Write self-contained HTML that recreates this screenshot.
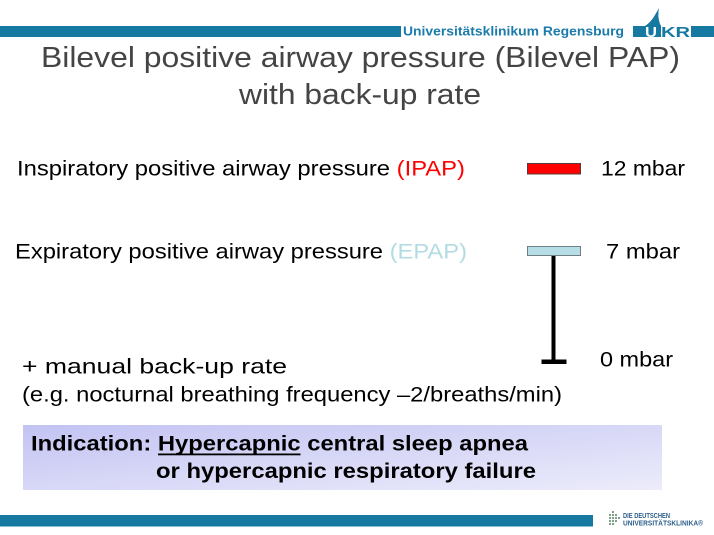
<!DOCTYPE html>
<html>
<head>
<meta charset="utf-8">
<style>
  html,body{margin:0;padding:0;background:#fff;}
  svg{display:block;}
  text{font-family:"Liberation Sans", Arial, sans-serif;}
</style>
</head>
<body>
<svg width="714" height="535" viewBox="0 0 714 535" xmlns="http://www.w3.org/2000/svg">
  <defs>
    <linearGradient id="boxg" x1="0" y1="0" x2="1" y2="1">
      <stop offset="0" stop-color="#c3c3f3"/>
      <stop offset="1" stop-color="#ececfb"/>
    </linearGradient>
  </defs>
  <rect width="714" height="535" fill="#ffffff"/>

  <!-- top bar -->
  <rect x="0" y="26" width="401" height="11" fill="#1679a1"/>
  <rect x="691" y="26" width="23" height="11" fill="#1679a1"/>
  <text x="403" y="35.7" font-size="12.5" font-weight="bold" fill="#1b7bab" textLength="221" lengthAdjust="spacingAndGlyphs">Universitätsklinikum Regensburg</text>
  <!-- UKR logo -->
  <path d="M633,37 L633,26 L645,26 Q651,22 655,15 L659,8 Q657,18 661,26 L661,37 Z" fill="#1679a1"/>
  <text x="645" y="37" font-size="15" font-weight="bold" fill="#ffffff" textLength="12" lengthAdjust="spacingAndGlyphs">U</text>
  <text x="661" y="37" font-size="15" font-weight="bold" fill="#1679a1" textLength="29" lengthAdjust="spacingAndGlyphs">KR</text>

  <!-- title -->
  <text x="41" y="67" font-size="28.5" fill="#444444" textLength="639" lengthAdjust="spacingAndGlyphs">Bilevel positive airway pressure (Bilevel PAP)</text>
  <text x="239" y="104" font-size="28.5" fill="#444444" textLength="242" lengthAdjust="spacingAndGlyphs">with back-up rate</text>

  <!-- IPAP -->
  <text x="17" y="175.7" font-size="21" fill="#000" textLength="448" lengthAdjust="spacingAndGlyphs">Inspiratory positive airway pressure <tspan fill="#ff0000">(IPAP)</tspan></text>
  <rect x="527.5" y="163.5" width="53" height="10.5" fill="#ff0000" stroke="#5a3a3a" stroke-width="1"/>
  <text x="601" y="175.7" font-size="21" fill="#000" textLength="84" lengthAdjust="spacingAndGlyphs">12 mbar</text>

  <!-- EPAP -->
  <text x="15" y="258.3" font-size="21" fill="#000" textLength="452" lengthAdjust="spacingAndGlyphs">Expiratory positive airway pressure <tspan fill="#b3dbe3">(EPAP)</tspan></text>
  <rect x="527.5" y="246.5" width="53" height="9" fill="#b7dee6" stroke="#6f7f84" stroke-width="1"/>
  <text x="606" y="258.3" font-size="21" fill="#000" textLength="74" lengthAdjust="spacingAndGlyphs">7 mbar</text>

  <!-- stem -->
  <rect x="551.5" y="256" width="4" height="107" fill="#000"/>
  <rect x="541.5" y="359.5" width="25" height="4.5" fill="#000"/>
  <text x="600" y="366.7" font-size="21" fill="#000" textLength="73" lengthAdjust="spacingAndGlyphs">0 mbar</text>

  <!-- back-up rate -->
  <text x="22" y="373.5" font-size="21" fill="#000" textLength="265" lengthAdjust="spacingAndGlyphs">+ manual back-up rate</text>
  <text x="22" y="401.5" font-size="21" fill="#000" textLength="540" lengthAdjust="spacingAndGlyphs">(e.g. nocturnal breathing frequency –2/breaths/min)</text>

  <!-- indication box -->
  <rect x="23" y="425" width="639" height="65" fill="url(#boxg)"/>
  <text x="31" y="450.7" font-size="21" font-weight="bold" fill="#000" textLength="497" lengthAdjust="spacingAndGlyphs">Indication: Hypercapnic central sleep apnea</text>
  <rect x="158" y="453.5" width="142.5" height="1.8" fill="#000"/>
  <text x="156" y="478" font-size="21" font-weight="bold" fill="#000" textLength="380" lengthAdjust="spacingAndGlyphs">or hypercapnic respiratory failure</text>

  <!-- bottom bar -->
  <rect x="0" y="515" width="593" height="11.5" fill="#1679a1"/>

  <!-- bottom logo -->
  <g fill="#7fa08a">
    <rect x="612" y="511" width="2" height="2"/>
    <rect x="609" y="514" width="2" height="2"/><rect x="612" y="514" width="2" height="2"/><rect x="615" y="514" width="2" height="2"/>
    <rect x="609" y="517" width="2" height="2"/><rect x="612" y="517" width="2" height="2"/><rect x="615" y="517" width="2" height="2"/><rect x="618" y="517" width="2" height="2"/>
    <rect x="609" y="520" width="2" height="2"/><rect x="612" y="520" width="2" height="2"/><rect x="615" y="520" width="2" height="2"/>
    <rect x="609" y="523" width="2" height="2"/><rect x="612" y="523" width="2" height="2"/>
  </g>
  <text x="623" y="518" font-size="7" font-weight="bold" fill="#2b5d8a" textLength="47" lengthAdjust="spacingAndGlyphs">DIE DEUTSCHEN</text>
  <text x="623" y="525.5" font-size="7" font-weight="bold" fill="#2b5d8a" textLength="80" lengthAdjust="spacingAndGlyphs">UNIVERSITÄTSKLINIKA®</text>
</svg>
</body>
</html>
